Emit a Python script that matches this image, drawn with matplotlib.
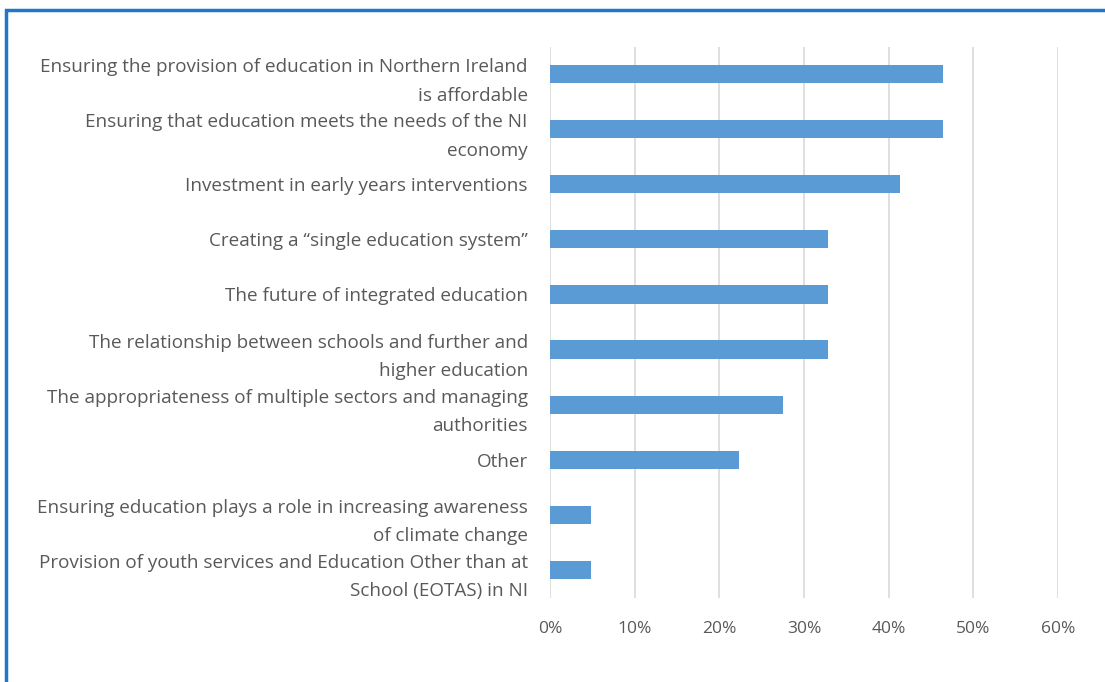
import matplotlib
matplotlib.use("Agg")
import matplotlib.pyplot as plt
from matplotlib.patches import Rectangle
from matplotlib.ticker import FuncFormatter

categories = [
    "Ensuring the provision of education in Northern Ireland\nis affordable",
    "Ensuring that education meets the needs of the NI\neconomy",
    "Investment in early years interventions",
    "Creating a \u201csingle education system\u201d",
    "The future of integrated education",
    "The relationship between schools and further and\nhigher education",
    "The appropriateness of multiple sectors and managing\nauthorities",
    "Other",
    "Ensuring education plays a role in increasing awareness\nof climate change",
    "Provision of youth services and Education Other than at\nSchool (EOTAS) in NI",
]
shares = [46.4, 46.4, 41.3, 32.8, 32.8, 32.8, 27.5, 22.3, 4.9, 4.9]
x_ticks = [0, 10, 20, 30, 40, 50, 60]

plt.rcParams["font.family"] = ["Open Sans", "DejaVu Sans"]

W, H = 1105, 682
fig = plt.figure(figsize=(W / 100, H / 100), dpi=100)
fig.patch.set_facecolor("white")

ax = fig.add_axes([550 / W, 1 - 597.5 / H, (1058 - 550) / W, (597.5 - 46.5) / H])

pos = list(range(len(categories)))
ax.barh(pos, shares, height=0.33, color="#5B9BD5", zorder=3)
ax.set_ylim(len(categories) - 0.5, -0.5)
ax.set_xlim(0, 60)
ax.set_xticks(x_ticks)
ax.xaxis.set_major_formatter(FuncFormatter(lambda v, _: f"{v:.0f}%"))
ax.set_yticks(pos)
ax.set_yticklabels(categories, linespacing=1.75, fontsize=13.6)
ax.tick_params(axis="both", length=0, colors="#595959")
ax.tick_params(axis="x", labelsize=12.5, pad=17)
ax.tick_params(axis="y", pad=16)
for lbl in ax.get_yticklabels():
    lbl.set_horizontalalignment("right")
ax.grid(axis="x", color="#D9D9D9", linewidth=1.2, zorder=0)
for s in ax.spines.values():
    s.set_visible(False)

# blue frame around the figure (open at right and bottom edges)
fig.add_artist(Rectangle((6 / W, -0.1), 1.2, 1.1 - 10 / H,
                         transform=fig.transFigure, fill=False,
                         edgecolor="#1F77C9", linewidth=2.5, clip_on=False))

fig.savefig("out.png", dpi=100)
